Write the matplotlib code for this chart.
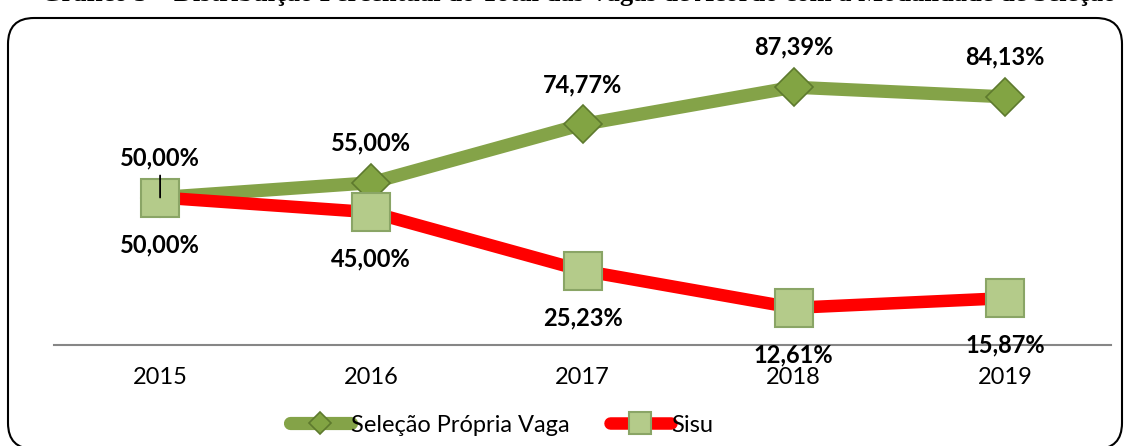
import matplotlib.pyplot as plt
from matplotlib.patches import FancyBboxPatch
from matplotlib.transforms import IdentityTransform

anos = ["2015", "2016", "2017", "2018", "2019"]
selecao_propria = [50.00, 55.00, 74.77, 87.39, 84.13]
sisu = [50.00, 45.00, 25.23, 12.61, 15.87]

titulo = "Gráfico 5 – Distribuição Percentual do Total das Vagas de Acordo com a Modalidade de Seleção"

verde = "#84A348"
verde_claro = "#B4CB8A"
vermelho = "#FF0000"
fonte = "Lato"

def fmt(v):
    return ("%.2f%%" % v).replace(".", ",")

fig = plt.figure(figsize=(11.29, 4.46), dpi=100)

# borda arredondada do grafico (em pixels)
borda = FancyBboxPatch((8, -3), 1114, 431,
                       boxstyle="round,pad=0,rounding_size=26",
                       transform=IdentityTransform(), fill=False,
                       edgecolor="black", linewidth=1.5)
fig.patches.append(borda)

fig.text(579 / 1129, 1.0 + 6 / 446, titulo, ha="center", va="center",
         fontsize=19, fontweight="bold", family="Liberation Serif")

ax = fig.add_axes([54.5 / 1129, 101 / 446, 1056 / 1129, 295 / 446])
x = list(range(len(anos)))

ax.plot(x, selecao_propria, color=verde, lw=9.5, marker="D", markersize=19.5,
        markerfacecolor="#82A443", markeredgecolor="#5E7A2E",
        markeredgewidth=1.2, solid_capstyle="round",
        label="Seleção Própria Vaga", zorder=3)
ax.plot(x, sisu, color=vermelho, lw=9, marker="s", markersize=27,
        markerfacecolor=verde_claro, markeredgecolor="#8AA566",
        markeredgewidth=1.5, solid_capstyle="round", label="Sisu", zorder=4)

for i, v in enumerate(selecao_propria):
    ax.annotate(fmt(v), (i, v), xytext=(0, 40), textcoords="offset pixels",
                ha="center", va="center", fontsize=17, fontweight="bold",
                family=fonte, zorder=6)
for i, v in enumerate(sisu):
    ax.annotate(fmt(v), (i, v), xytext=(0, -47), textcoords="offset pixels",
                ha="center", va="center", fontsize=17, fontweight="bold",
                family=fonte, zorder=6)

# linha de chamada do primeiro rotulo
ax.annotate("", (0, selecao_propria[0]), xytext=(0, 22),
            textcoords="offset pixels",
            arrowprops=dict(arrowstyle="-", color="black", lw=1.3,
                            shrinkA=0, shrinkB=0), zorder=7)

ax.set_xlim(-0.5, len(anos) - 0.5)
ax.set_ylim(0, 100)
ax.set_xticks(x)
ax.set_xticklabels(anos, fontsize=17, family=fonte)
ax.tick_params(axis="x", length=0, pad=16)
ax.set_yticks([])
for s in ["top", "right", "left"]:
    ax.spines[s].set_visible(False)
ax.spines["bottom"].set_color("#868686")
ax.spines["bottom"].set_linewidth(1.5)
ax.patch.set_alpha(0)

leg = fig.legend(loc="center", bbox_to_anchor=(0.444, 0.047), ncol=2,
                 frameon=False, prop={"family": fonte, "size": 17},
                 handlelength=2.6, columnspacing=1.7, handletextpad=0.0,
                 markerscale=0.6)

fig.savefig("out.png", dpi=100)
